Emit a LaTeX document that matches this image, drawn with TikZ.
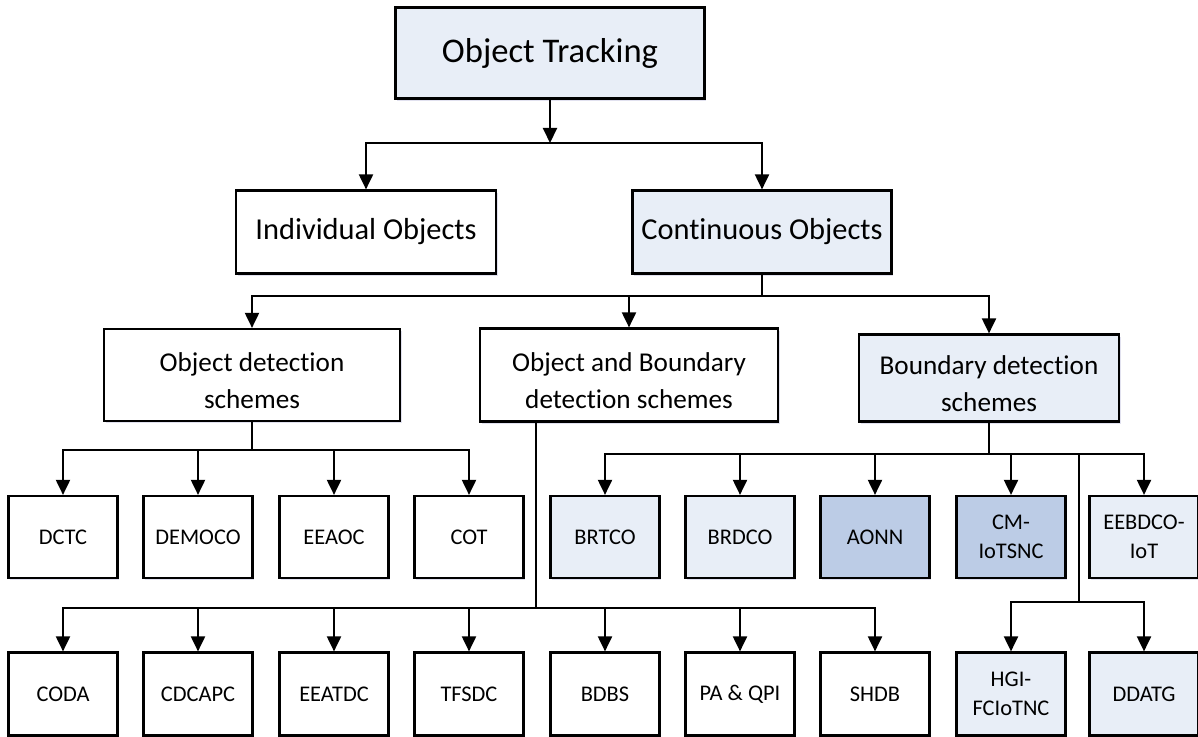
\documentclass[tikz,border=0pt]{standalone}
\usepackage{fontspec}
\setmainfont{Carlito}[Ligatures={NoCommon,NoDiscretionary,NoContextual}]
\usetikzlibrary{arrows.meta,shadows}
\definecolor{lightfill}{HTML}{E8EEF7}
\definecolor{darkfill}{HTML}{BCCCE6}
\newcommand{\lowerstrut}{\rule{0pt}{15.5pt}}
\begin{document}
\begin{tikzpicture}[x=0.5pt,y=-0.5pt,
  box/.style={draw, line width=1.1pt, inner sep=0pt, align=center, fill=white,
    drop shadow={opacity=0.18, shadow xshift=0.8pt, shadow yshift=-1.2pt, fill=blue!30!gray}},
  light/.style={fill=lightfill},
  dark/.style={fill=darkfill},
  bigbox/.style={box, font=\fontsize{17.3}{20}\selectfont},
  midbox/.style={box, font=\fontsize{15.2}{18}\selectfont},
  schbox/.style={box, font=\fontsize{13.6}{18.5}\selectfont},
  leaf/.style={box, minimum width=54.5pt, font=\fontsize{11.2}{14.5}\selectfont},
  r3/.style={leaf, minimum height=41pt},
  r4/.style={leaf, minimum height=41.5pt},
  conn/.style={line width=1pt},
  arr/.style={conn, -{Triangle[length=7.5pt,width=7pt]}}
]
\useasboundingbox (0,0) rectangle (1198,737);

% level 0 and 1
\node[bigbox, light, minimum width=154.5pt, minimum height=45.5pt] (ot) at (550,53) {Object Tracking};
\node[midbox, minimum width=130pt, minimum height=41.5pt] (ind) at (366,232) {Individual Objects};
\node[midbox, light, minimum width=129.5pt, minimum height=41.5pt] (con) at (762,232) {Continuous Objects};

% level 2
\node[schbox, minimum width=148pt, minimum height=46pt] (ods) at (252,375) {\lowerstrut Object detect\kern0pt ion\\schemes};
\node[schbox, minimum width=149pt, minimum height=46.5pt] (obd) at (629,375) {\lowerstrut Object and Boundary\\detect\kern0pt ion schemes};
\node[schbox, light, minimum width=130pt, minimum height=43.5pt] (bds) at (989,378) {\lowerstrut Boundary detect\kern0pt ion\\schemes};

% level 3
\node[r3] (dctc) at (63,537) {DCTC};
\node[r3] (democo) at (198,537) {DEMOCO};
\node[r3] (eeaoc) at (334,537) {EEAOC};
\node[r3] (cot) at (469,537) {COT};
\node[r3, light] (brtco) at (605,537) {BRTCO};
\node[r3, light] (brdco) at (740,537) {BRDCO};
\node[r3, dark] (aonn) at (875,537) {AONN};
\node[r3, dark] (cm) at (1011,537) {CM-\\IoTSNC};
\node[r3, light] (eebdco) at (1144,537) {EEBDCO-\\IoT};

% level 4
\node[r4] (coda) at (63,694) {CODA};
\node[r4] (cdcapc) at (198,694) {CDCAPC};
\node[r4] (eeatdc) at (334,694) {EEATDC};
\node[r4] (tfsdc) at (469,694) {TFSDC};
\node[r4] (bdbs) at (605,694) {BDBS};
\node[r4] (paqpi) at (740,694) {PA \& QPI};
\node[r4] (shdb) at (875,694) {SHDB};
\node[r4, light] (hgi) at (1011,694) {HGI-\\FCIoTNC};
\node[r4, light] (ddatg) at (1144,694) {DDATG};

% junctions
\coordinate (j1) at (550,143);
\coordinate (j2) at (762,296);
\coordinate (j3) at (252,450);
\coordinate (j4) at (536,608);
\coordinate (j5) at (989,454);
\coordinate (j6) at (1079,454);
\coordinate (j7) at (1079,602);

% connectors
\draw[arr] (ot.south) -- (j1);
\draw[arr] (j1) -| (ind.north);
\draw[arr] (j1) -| (con.north);

\draw[conn] (con.south) -- (j2);
\draw[arr] (j2) -| (ods.north);
\draw[arr] (j2) -| (obd.north);
\draw[arr] (j2) -| (bds.north);

\draw[conn] (ods.south) -- (j3);
\foreach \n in {dctc,democo,eeaoc,cot} \draw[arr] (j3) -| (\n.north);

\draw[conn] (obd.south -| j4) -- (j4);
\foreach \n in {coda,cdcapc,eeatdc,tfsdc,bdbs,paqpi,shdb} \draw[arr] (j4) -| (\n.north);

\draw[conn] (bds.south) -- (j5);
\foreach \n in {brtco,brdco,aonn,cm,eebdco} \draw[arr] (j5) -| (\n.north);
\draw[conn] (j6) -- (j7);
\foreach \n in {hgi,ddatg} \draw[arr] (j7) -| (\n.north);
\end{tikzpicture}
\end{document}
